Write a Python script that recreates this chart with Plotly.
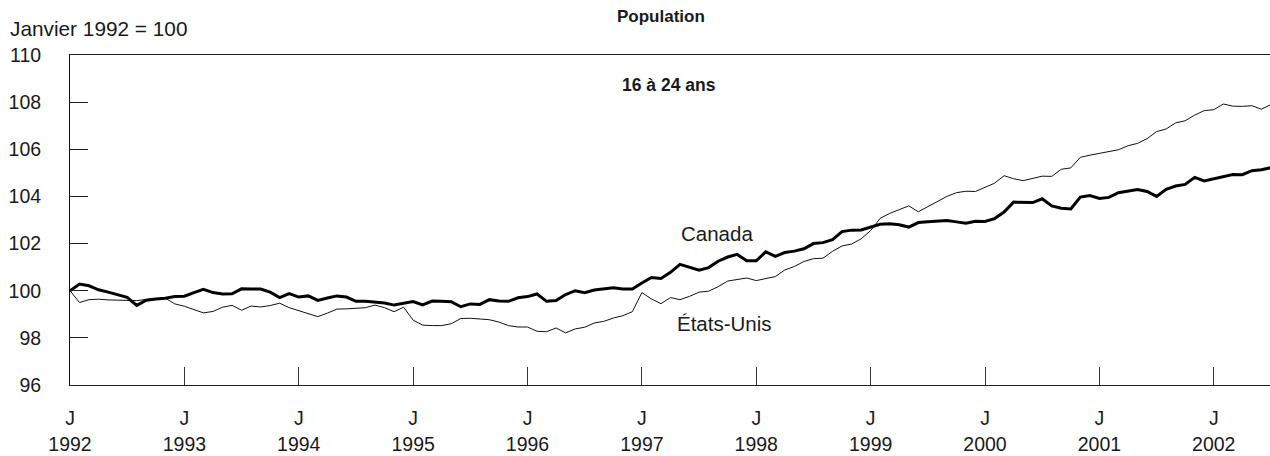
import pandas as pd
import plotly.graph_objects as go

canada = [100.0, 100.28, 100.21, 100.04, 99.94, 99.83, 99.72, 99.38, 99.6, 99.65, 99.68, 99.75,
          99.77, 99.92, 100.06, 99.92, 99.86, 99.87, 100.08, 100.07, 100.07, 99.94, 99.71, 99.88,
          99.73, 99.78, 99.59, 99.69, 99.78, 99.73, 99.55, 99.55, 99.52, 99.48, 99.39, 99.45,
          99.54, 99.4, 99.56, 99.55, 99.53, 99.32, 99.44, 99.42, 99.62, 99.56, 99.55, 99.70,
          99.75, 99.86, 99.55, 99.58, 99.84, 100.0, 99.92, 100.03, 100.07, 100.13, 100.07, 100.07,
          100.33, 100.56, 100.52, 100.78, 101.12, 100.98, 100.87, 100.98, 101.25, 101.43, 101.54, 101.27,
          101.27, 101.65, 101.46, 101.62, 101.68, 101.78, 102.0, 102.04, 102.17, 102.51, 102.57, 102.58,
          102.69, 102.82, 102.84, 102.8, 102.7, 102.89, 102.93, 102.95, 102.98, 102.92, 102.86, 102.95,
          102.94, 103.06, 103.34, 103.76, 103.74, 103.74, 103.9, 103.6, 103.5, 103.47, 103.97, 104.04,
          103.91, 103.96, 104.16, 104.24, 104.29, 104.21, 104.0, 104.3, 104.44, 104.51, 104.81, 104.66,
          104.75, 104.81, 104.93, 104.92, 105.09, 105.13, 105.22]

etats_unis = [100.0, 99.5, 99.62, 99.64, 99.61, 99.6, 99.59, 99.58, 99.63, 99.66, 99.69, 99.44,
              99.34, 99.2, 99.06, 99.12, 99.3, 99.38, 99.17, 99.35, 99.31, 99.37, 99.47, 99.28,
              99.15, 99.02, 98.9, 99.05, 99.22, 99.23, 99.25, 99.28, 99.39, 99.28, 99.11, 99.3,
              98.75, 98.54, 98.52, 98.52, 98.6, 98.82, 98.83, 98.8, 98.77, 98.67, 98.52, 98.46,
              98.46, 98.28, 98.26, 98.42, 98.21, 98.38, 98.45, 98.63, 98.7, 98.84, 98.94, 99.11,
              99.92, 99.65, 99.45, 99.71, 99.62, 99.76, 99.94, 99.98, 100.17, 100.41, 100.48, 100.54,
              100.43, 100.51, 100.6, 100.88, 101.03, 101.24, 101.36, 101.38, 101.67, 101.9, 101.98, 102.2,
              102.55, 103.07, 103.28, 103.44, 103.6, 103.35, 103.57, 103.78, 104.0, 104.16, 104.22, 104.21,
              104.38, 104.56, 104.88, 104.75, 104.67, 104.78, 104.86, 104.85, 105.15, 105.21, 105.66, 105.75,
              105.83, 105.93, 105.98, 106.15, 106.25, 106.45, 106.75, 106.86, 107.12, 107.21, 107.45, 107.64,
              107.68, 107.92, 107.83, 107.82, 107.85, 107.7, 107.9]

years = list(range(1992, 2003))
tick_text = [f"J<br>{y}" for y in years]
y_ticks = [96, 98, 100, 102, 104, 106, 108, 110]

months = list(range(len(canada)))
tick_vals = [(y - 1992) * 12 for y in years]

FONT = "Liberation Sans, Arial, sans-serif"
INK = "#1a1a1a"

fig = go.Figure()
fig.add_trace(go.Scatter(x=months, y=etats_unis, mode="lines", name="États-Unis",
                         line=dict(color="#111111", width=1), cliponaxis=False))
fig.add_trace(go.Scatter(x=months, y=canada, mode="lines", name="Canada",
                         line=dict(color="#000000", width=3), cliponaxis=False))

fig.update_layout(
    width=1270, height=456,
    margin=dict(l=70, r=0, t=55, b=71),
    paper_bgcolor="white", plot_bgcolor="white",
    showlegend=False,
    font=dict(family=FONT, size=20, color=INK),
)
fig.update_xaxes(
    range=[0, 125.9], tickvals=tick_vals, ticktext=tick_text,
    showline=True, linecolor="#222222", linewidth=1, mirror=True,
    ticks="inside", ticklen=18, tickcolor="#333333", tickwidth=1,
    showgrid=False, zeroline=False, ticklabelstandoff=16,
    tickfont=dict(family=FONT, size=19.5, color=INK),
)
fig.update_yaxes(
    range=[96, 110], tickvals=y_ticks, ticktext=[str(v) for v in y_ticks],
    showline=True, linecolor="#111111", linewidth=1,
    ticks="inside", ticklen=18, tickcolor="#222222", tickwidth=1,
    showgrid=False, zeroline=False, ticklabelstandoff=24,
    tickfont=dict(family=FONT, size=19.5, color=INK),
)

fig.add_annotation(text="<b>Population</b>", xref="paper", yref="paper",
                   x=(661 - 70) / 1200, y=1 + (55 - 16) / 330, showarrow=False,
                   xanchor="center", yanchor="middle",
                   font=dict(family=FONT, size=17, color=INK))
fig.add_annotation(text="Janvier 1992 = 100", xref="paper", yref="paper",
                   x=-(70 - 8) / 1200, y=1 + (55 - 28) / 330, showarrow=False,
                   xanchor="left", yanchor="middle",
                   font=dict(family=FONT, size=20.8, color=INK))
fig.add_annotation(text="<b>16 à 24 ans</b>", xref="paper", yref="paper",
                   x=(669 - 70) / 1200, y=1 - (85 - 55) / 330, showarrow=False,
                   xanchor="center", yanchor="middle",
                   font=dict(family=FONT, size=17.5, color=INK))
fig.add_annotation(text="Canada", xref="paper", yref="paper",
                   x=(717 - 70) / 1200, y=1 - (233 - 55) / 330, showarrow=False,
                   xanchor="center", yanchor="middle",
                   font=dict(family=FONT, size=20.5, color=INK))
fig.add_annotation(text="États-Unis", xref="paper", yref="paper",
                   x=(725 - 70) / 1200, y=1 - (323 - 55) / 330, showarrow=False,
                   xanchor="center", yanchor="middle",
                   font=dict(family=FONT, size=20.5, color=INK))

fig.write_html("out.html",
               config={"displayModeBar": False},
               post_script="document.body.style.margin='0';document.body.style.padding='0';"
                           "document.documentElement.style.overflow='hidden';")
